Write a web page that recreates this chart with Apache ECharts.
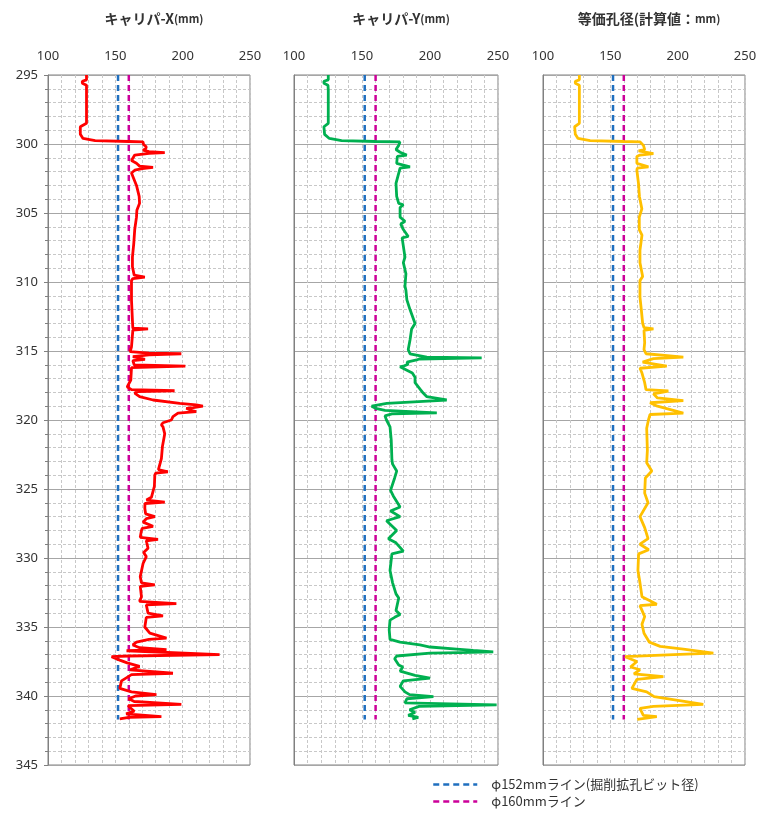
<!DOCTYPE html>
<html>
<head>
<meta charset="utf-8">
<script src="https://cdn.jsdelivr.net/npm/echarts@6/dist/echarts.min.js"></script>
<style>
html, body { margin: 0; padding: 0; background: #fff; }
#chart { width: 760px; height: 814px; }
</style>
</head>
<body>
<div id="chart"></div>
<script>
var depthX = [295.0,295.35,295.45,295.6,295.75,296.1,298.5,298.75,299.3,299.6,299.75,299.82,299.85,300.05,300.2,300.35,300.45,300.55,300.62,300.68,300.8,301.2,301.4,301.6,301.7,301.78,301.9,302.1,303.0,303.8,304.3,304.8,305.3,306.2,307.2,308.2,308.9,309.5,309.65,309.75,309.9,311.3,312.8,313.35,313.4,313.48,314.7,315.05,315.15,315.2,315.28,315.4,315.6,315.7,316.0,316.1,316.2,317.1,317.6,317.8,317.88,317.95,318.05,318.3,318.55,318.8,318.9,319.0,319.1,319.15,319.3,319.4,319.5,319.75,320.0,320.2,320.35,320.5,321.0,321.9,322.8,323.6,323.75,323.85,324.0,324.8,325.6,325.8,325.95,326.05,326.4,326.8,327.0,327.15,327.4,327.7,327.85,328.0,328.5,328.65,328.75,329.3,329.6,329.9,330.4,331.35,331.8,331.95,332.05,332.8,333.15,333.3,333.4,334.0,334.2,334.3,335.0,335.45,335.8,335.9,336.1,336.3,336.5,336.65,336.72,337.0,337.1,337.15,337.4,337.6,337.85,338.1,338.35,338.45,338.9,339.45,339.7,339.9,340.0,340.2,340.4,340.6,340.7,341.1,341.3,341.5,341.55,341.65];
var caliperX = [128.6,128.6,125.5,125.5,128.6,128.6,128.6,124,124,126,135,160,170.5,171,173,172.5,170.5,175,186.7,175,164.4,162,165.7,168,178,170,164.4,162,165.7,167.7,168,166,165.7,164.4,163.7,162.7,162.7,164,171.9,163,162,162,162.7,163,174.3,163,162,161,175,199,175,163,172,163,164,202,162,161.5,158.8,162,194,166,164.4,168,178,197.8,210,215,208,202.7,206,210,196.5,192.8,191.6,185.4,184.2,185.4,186.7,185,184.2,182,189,180,179.3,179,176.8,173.1,186.7,172,171.9,172.5,179.3,173,170.6,178,170,169.4,168.5,181.7,173,174.3,171,173,170.6,168.5,169.4,179.3,168.5,169.4,168,195.3,173,174.3,185.4,173,171.9,175.6,188,175,165.7,163,168,188,158.3,227.4,160,147.2,153.3,158.8,168,161,192.8,162,154.6,153.3,162,180.5,165,160,164,199,159.5,164,158,184.2,160,153.3];

var depthY = [295.0,295.35,295.45,295.6,295.75,296.1,298.5,298.75,299.3,299.6,299.75,299.82,299.85,300.1,300.4,300.6,300.8,300.9,301.4,301.65,301.75,302.85,303.8,304.3,304.4,304.6,305.3,305.6,305.8,306.2,306.7,306.8,307.4,308.2,308.6,309.4,310.3,310.6,311.3,312.0,313.0,313.4,314.2,314.9,315.2,315.45,315.5,315.58,315.65,315.8,315.95,316.1,316.15,316.4,316.6,316.9,317.3,317.6,318.05,318.3,318.55,318.65,318.8,319.0,319.15,319.3,319.48,319.55,319.7,320.0,320.5,321.45,322.9,323.2,323.7,324.2,325.1,325.5,326.3,326.6,327.0,327.3,328.0,328.6,328.9,329.5,329.7,330.9,331.8,332.6,332.9,333.8,334.1,334.3,334.5,335.2,335.9,336.1,336.3,336.45,336.6,336.7,336.8,336.85,336.9,337.1,337.3,337.75,337.9,338.2,338.5,338.7,338.9,339.3,339.7,339.9,340.05,340.2,340.5,340.65,340.75,341.0,341.2,341.4,341.55,341.65];
var caliperY = [125.2,125.2,122,122,125,125.2,125.2,122,122.5,126,135,160,177.9,177,175,178,182.9,176,175.5,185.3,178,175,175.5,177,180.4,178,178,181.6,178.5,180.4,184,179.5,180.4,181.6,180.4,182.3,181.6,182.3,183,185.3,189,186.5,185.3,184,185.3,197.6,238,192,190.2,183,184,180.4,178,183,187,189,189,191.4,195,197.5,212.3,195,168.2,157.1,160,166.9,205,172,166.9,168,170.6,171.5,172,172.5,175.5,174,171,173,178,171,178,168,175.5,169.4,175,180.4,172,170.6,172.5,175,177,175,178,174,170.6,170,170.6,178,192.6,200,219.6,231.8,246.5,222,200,175.5,174,177,180,178,189,200,180.4,178,181.6,185,202.5,183,181.6,249,192,185,189,184,191.4,187];

var depthEq = [295.0,295.35,295.45,295.6,295.75,296.1,298.5,298.75,299.3,299.6,299.75,299.82,299.85,300.1,300.4,300.5,300.7,300.8,300.9,301.4,301.65,301.75,301.9,302.85,303.8,304.7,305.3,306.2,306.6,307.7,308.6,309.6,309.9,311.1,312.0,313.0,313.3,313.4,313.5,314.4,314.9,315.2,315.45,315.55,315.8,316.1,316.25,316.6,317.3,317.8,317.9,318.1,318.4,318.6,318.75,319.0,319.5,319.6,320.0,320.6,322.2,323.1,323.7,324.2,325.3,326.0,327.0,327.8,328.6,329.0,329.4,329.7,330.9,331.8,332.8,333.35,333.45,334.25,334.8,335.45,336.1,336.4,336.6,336.9,337.0,337.15,337.5,337.9,338.1,338.4,338.6,338.8,339.45,339.7,340.05,340.6,340.75,340.9,341.4,341.5,341.7];
var equivDia = [127,127,124,124,127,127,127,123.5,124,126,135,160,172.1,174.6,175.5,171,182,172,169.7,169.7,178.3,170,169.7,170.9,171.6,173.4,171.5,171.5,173.5,172,172,174,172,172,173,174,175,182,175,175.5,175,176.5,204.2,182,174,191.9,172,173.5,175.5,176.5,193.1,182,185,204.2,179.5,185,204.2,179.5,178.3,177,177.5,177,180.8,176,175.5,178,172,175.5,178,172,178.5,171,170.5,172,173.5,184.5,172,175.5,173.5,175,179,187,204.2,226.5,197,161,169.7,165,172,167.5,189.4,169.7,166,177,182.5,219,182,172,174.5,184.5,170];

// reference diameters and their depth range
var refDia = [152, 160];
var refDepth = [295, 341.7];
var refNames = ['φ152mmライン(掘削拡孔ビット径)', 'φ160mmライン'];
var refColors = ['#1f6fbf', '#cc0099'];

var panelTitles = [
  '{a|キャリパ-X}{b|(mm)}',
  '{a|キャリパ-Y}{b|(mm)}',
  '{a|等価孔径(計算値：}{b|mm)}'
];
var panelLeft = [48, 294, 543];
var panelWidth = [202, 204, 202];
var lineColors = ['#ff0000', '#00b050', '#ffc000'];
var depths = [depthX, depthY, depthEq];
var values = [caliperX, caliperY, equivDia];

function zip(d, v) {
  return d.map(function(x, i) { return [v[i], x]; });
}

var grids = [], xAxes = [], yAxes = [], series = [], titles = [];
for (var i = 0; i < 3; i++) {
  grids.push({ left: panelLeft[i], width: panelWidth[i], top: 75, height: 690,
    show: true, borderColor: '#808080', borderWidth: 1 });
  titles.push({
    text: panelTitles[i], left: panelLeft[i] + panelWidth[i] / 2, top: 7, textAlign: 'center',
    textStyle: { rich: {
      a: { fontFamily: 'Noto Sans CJK JP', fontWeight: 'bold', fontSize: 14, color: '#333' },
      b: { fontFamily: 'Noto Sans CJK JP', fontWeight: 'bold', fontSize: 11, color: '#333' }
    } }
  });
  xAxes.push({
    gridIndex: i, type: 'value', position: 'top', min: 100, max: 250, interval: 50,
    axisLine: { show: false }, axisTick: { show: false },
    axisLabel: { fontSize: 13, color: '#333', margin: 12, fontFamily: 'Noto Sans' },
    splitLine: { lineStyle: { color: '#c8c8c8', type: [3, 2] } },
    minorTick: { show: false, splitNumber: 5 },
    minorSplitLine: { show: true, lineStyle: { color: '#c8c8c8', type: [3, 2] } }
  });
  yAxes.push({
    gridIndex: i, type: 'value', inverse: true, min: 295, max: 345, interval: 5,
    axisLine: { show: true, lineStyle: { color: '#808080' } },
    axisTick: { show: i === 0, length: 4, lineStyle: { color: '#808080' } },
    minorTick: { show: i === 0, splitNumber: 5, length: 3, lineStyle: { color: '#808080' } },
    axisLabel: { show: i === 0, fontSize: 13, color: '#333', margin: 10, fontFamily: 'Noto Sans' },
    splitLine: { lineStyle: { color: '#a6a6a6', width: 1.2 } },
    minorSplitLine: { show: true, lineStyle: { color: '#c8c8c8', type: [3, 2] } }
  });
  for (var r = 0; r < refDia.length; r++) {
    series.push({
      name: refNames[r], type: 'line', xAxisIndex: i, yAxisIndex: i,
      symbol: 'none', silent: true,
      data: [[refDia[r], refDepth[0]], [refDia[r], refDepth[1]]],
      lineStyle: { color: refColors[r], width: 2.5, type: [6, 4] },
      itemStyle: { color: refColors[r] }
    });
  }
  series.push({
    type: 'line', xAxisIndex: i, yAxisIndex: i, symbol: 'none',
    data: zip(depths[i], values[i]),
    lineStyle: { color: lineColors[i], width: 2.8 },
    z: 3
  });
}

var chart = echarts.init(document.getElementById('chart'));
chart.setOption({
  animation: false,
  title: titles,
  grid: grids,
  xAxis: xAxes,
  yAxis: yAxes,
  legend: {
    data: refNames, orient: 'vertical', left: 432, top: 778, itemGap: 4,
    padding: 0, height: 40,
    itemWidth: 44, itemHeight: 14,
    itemStyle: { opacity: 0 },
    lineStyle: { width: 2.5 },
    textStyle: { fontFamily: 'Noto Sans CJK JP', fontSize: 13, color: '#333', padding: [0, 0, 0, 9] }
  },
  series: series
});
</script>
</body>
</html>
